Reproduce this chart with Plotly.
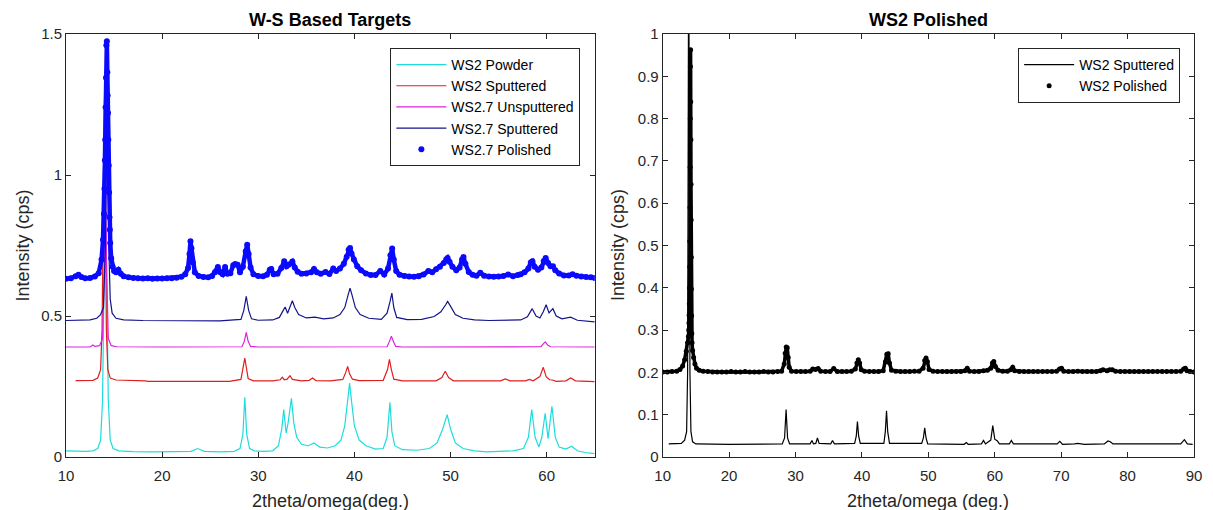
import plotly.graph_objects as go

# ---------------- Left panel: W-S Based Targets ----------------
powder_x = [10.0, 11.0, 12.0, 12.8, 13.3, 13.6, 13.8, 13.95, 14.1, 14.25, 14.4, 14.6, 14.9, 15.5, 17.0, 19.0,
            21.0, 23.0, 23.7, 24.4, 26.0, 27.5, 28.1, 28.4, 28.6, 28.8, 29.1, 29.6, 30.5, 31.5, 32.1, 32.45,
            32.65, 32.9, 33.1, 33.45, 33.7, 34.0, 34.5, 35.2, 35.8, 36.4, 37.2, 38.0, 38.6, 39.0, 39.3, 39.5,
            39.7, 40.0, 40.5, 41.2, 42.2, 43.0, 43.4, 43.7, 43.9, 44.2, 45.0, 46.5, 47.8, 48.6, 49.2, 49.65,
            50.0, 50.5, 51.3, 52.5, 53.8, 55.0, 56.5, 57.6, 58.1, 58.45, 58.8, 59.2, 59.5, 59.85, 60.15,
            60.55, 60.9, 61.3, 62.0, 62.6, 63.2, 64.0, 65.0]
powder_y = [0.022, 0.021, 0.020, 0.022, 0.030, 0.060, 0.200, 0.600, 1.000, 0.600, 0.200, 0.060, 0.030, 0.022,
            0.019, 0.018, 0.018, 0.020, 0.030, 0.020, 0.018, 0.020, 0.030, 0.080, 0.212, 0.080, 0.030, 0.022,
            0.020, 0.022, 0.040, 0.100, 0.168, 0.085, 0.120, 0.208, 0.120, 0.070, 0.045, 0.040, 0.050, 0.035,
            0.032, 0.040, 0.060, 0.110, 0.200, 0.262, 0.200, 0.110, 0.060, 0.040, 0.028, 0.030, 0.070, 0.194,
            0.090, 0.040, 0.026, 0.024, 0.030, 0.050, 0.100, 0.150, 0.100, 0.050, 0.030, 0.022, 0.018, 0.020,
            0.022, 0.030, 0.070, 0.168, 0.070, 0.035, 0.070, 0.155, 0.065, 0.180, 0.070, 0.035, 0.028, 0.038,
            0.022, 0.016, 0.012]

ws2_sput_x = [11.0, 12.0, 12.8, 13.3, 13.6, 13.75, 13.9, 14.0, 14.1, 14.2, 14.35, 14.6, 15.2, 17.0, 18.3, 18.5,
              21.0, 24.0, 27.0, 28.2, 28.45, 28.6, 28.75, 28.95, 29.5, 31.5, 32.3, 32.5, 32.7, 33.0, 33.3, 33.55,
              34.5, 35.3, 35.65, 36.0, 37.5, 38.8, 39.1, 39.3, 39.5, 39.8, 40.5, 43.0, 43.45, 43.65, 43.85, 44.1,
              45.0, 48.5, 49.1, 49.45, 49.8, 50.3, 55.2, 55.7, 56.2, 57.8, 58.2, 58.6, 59.3, 59.65, 59.95, 60.3,
              60.6, 61.0, 62.0, 62.5, 63.0, 65.0]
ws2_sput_y = [0.271, 0.271, 0.272, 0.280, 0.310, 0.450, 0.900, 1.267, 0.900, 0.450, 0.310, 0.280, 0.273, 0.272,
              0.270, 0.268, 0.268, 0.268, 0.268, 0.275, 0.320, 0.351, 0.320, 0.278, 0.270, 0.270, 0.274, 0.283,
              0.274, 0.276, 0.288, 0.275, 0.270, 0.272, 0.280, 0.271, 0.270, 0.275, 0.300, 0.321, 0.295, 0.276,
              0.271, 0.272, 0.310, 0.346, 0.310, 0.276, 0.270, 0.270, 0.282, 0.304, 0.282, 0.270, 0.270, 0.277,
              0.270, 0.270, 0.275, 0.270, 0.285, 0.318, 0.285, 0.274, 0.273, 0.268, 0.270, 0.280, 0.270, 0.267]

ws27_unsput_x = [10.0, 12.5, 12.8, 13.0, 13.5, 13.8, 14.0, 14.1, 14.2, 14.4, 14.7, 15.3, 20.0, 28.3, 28.55, 28.75,
                 28.95, 29.2, 30.0, 43.4, 43.65, 43.85, 44.05, 44.3, 45.0, 59.4, 59.7, 59.87, 60.1, 60.4, 65.0]
ws27_unsput_y = [0.390, 0.390, 0.397, 0.392, 0.395, 0.420, 0.700, 1.150, 0.700, 0.420, 0.395, 0.391, 0.390, 0.391,
                 0.410, 0.442, 0.410, 0.392, 0.390, 0.391, 0.410, 0.428, 0.410, 0.392, 0.390, 0.391, 0.403, 0.408,
                 0.397, 0.391, 0.390]

ws27_sput_x = [10.0, 11.5, 12.5, 13.2, 13.6, 13.9, 14.1, 14.3, 14.45, 14.6, 14.8, 15.2, 16.0, 18.0, 22.0, 26.0,
               28.2, 28.5, 28.75, 29.0, 29.3, 30.0, 31.5, 32.2, 32.6, 32.8, 33.05, 33.3, 33.55, 33.8, 34.2, 35.0,
               35.9, 36.8, 37.8, 38.5, 39.0, 39.35, 39.55, 39.75, 40.1, 40.6, 41.5, 42.8, 43.4, 43.7, 43.9, 44.1,
               44.4, 45.5, 47.0, 48.3, 49.0, 49.5, 49.7, 50.0, 50.5, 51.3, 52.5, 54.0, 55.8, 57.3, 58.0, 58.5,
               58.9, 59.3, 59.65, 59.95, 60.25, 60.65, 61.0, 61.6, 62.5, 63.2, 65.0]
ws27_sput_y = [0.484, 0.484, 0.486, 0.492, 0.505, 0.530, 0.750, 1.450, 0.750, 0.560, 0.510, 0.492, 0.486, 0.484,
               0.483, 0.483, 0.488, 0.520, 0.570, 0.520, 0.490, 0.485, 0.486, 0.495, 0.520, 0.532, 0.510, 0.530,
               0.554, 0.530, 0.505, 0.493, 0.496, 0.490, 0.493, 0.505, 0.530, 0.575, 0.599, 0.575, 0.530, 0.505,
               0.492, 0.488, 0.510, 0.550, 0.581, 0.530, 0.495, 0.487, 0.488, 0.498, 0.515, 0.540, 0.552, 0.535,
               0.505, 0.492, 0.486, 0.484, 0.486, 0.486, 0.497, 0.526, 0.500, 0.493, 0.515, 0.540, 0.511, 0.526,
               0.500, 0.490, 0.496, 0.485, 0.479]

ws27_pol_x = [10.0, 10.5, 11.0, 11.3, 11.6, 12.0, 12.5, 13.0, 13.4, 13.7, 13.85, 13.95, 14.0, 14.05, 14.08, 14.12,
              14.16, 14.2, 14.25, 14.3, 14.33, 14.37, 14.4, 14.44, 14.48, 14.52, 14.56, 14.6, 14.7, 14.85, 15.0,
              15.2, 15.45, 15.7, 16.0, 16.5, 17.0, 17.5, 18.0, 18.5, 19.0, 19.5, 20.0, 20.5, 21.0, 21.5, 22.0,
              22.4, 22.7, 22.85, 22.95, 23.05, 23.2, 23.4, 23.8, 24.3, 24.8, 25.2, 25.5, 25.8, 26.05, 26.3, 26.55,
              26.8, 27.1, 27.4, 27.6, 27.85, 28.1, 28.4, 28.7, 28.85, 29.0, 29.2, 29.5, 30.0, 30.5, 30.9, 31.2,
              31.35, 31.6, 32.0, 32.4, 32.7, 32.95, 33.2, 33.55, 33.8, 34.1, 34.5, 35.0, 35.5, 35.8, 36.1, 36.5,
              37.0, 37.4, 37.8, 38.1, 38.5, 38.9, 39.2, 39.4, 39.55, 39.7, 39.95, 40.3, 40.7, 41.2, 41.7, 42.2,
              42.7, 43.1, 43.5, 43.75, 43.93, 44.1, 44.35, 44.7, 45.2, 45.7, 46.2, 46.7, 47.2, 47.7, 48.1, 48.5,
              48.9, 49.3, 49.55, 49.7, 49.9, 50.2, 50.6, 50.95, 51.2, 51.35, 51.55, 51.9, 52.3, 52.7, 53.1, 53.5,
              54.0, 54.5, 55.0, 55.5, 56.0, 56.5, 57.0, 57.3, 57.7, 58.1, 58.35, 58.52, 58.75, 59.1, 59.45, 59.7,
              59.9, 60.15, 60.4, 60.66, 60.9, 61.3, 61.8, 62.3, 62.7, 63.1, 63.6, 64.1, 64.6, 65.0]
ws27_pol_y = [0.632, 0.634, 0.641, 0.646, 0.638, 0.634, 0.635, 0.640, 0.652, 0.700, 0.770, 0.862, 0.951, 1.052,
              1.125, 1.240, 1.345, 1.460, 1.474, 1.364, 1.282, 1.220, 1.125, 1.034, 0.938, 0.850, 0.806, 0.759,
              0.705, 0.675, 0.660, 0.655, 0.664, 0.650, 0.641, 0.637, 0.635, 0.634, 0.633, 0.634, 0.632, 0.633,
              0.633, 0.634, 0.634, 0.636, 0.639, 0.648, 0.670, 0.720, 0.765, 0.740, 0.690, 0.655, 0.642, 0.638,
              0.637, 0.642, 0.655, 0.674, 0.655, 0.648, 0.674, 0.650, 0.652, 0.680, 0.684, 0.682, 0.655, 0.675,
              0.730, 0.753, 0.720, 0.672, 0.648, 0.642, 0.641, 0.646, 0.664, 0.667, 0.648, 0.650, 0.670, 0.694,
              0.676, 0.683, 0.693, 0.672, 0.657, 0.650, 0.651, 0.655, 0.667, 0.655, 0.650, 0.656, 0.649, 0.668,
              0.660, 0.668, 0.685, 0.710, 0.735, 0.741, 0.722, 0.700, 0.676, 0.662, 0.651, 0.645, 0.645, 0.660,
              0.647, 0.668, 0.715, 0.739, 0.700, 0.660, 0.646, 0.642, 0.640, 0.639, 0.641, 0.647, 0.660, 0.655,
              0.666, 0.675, 0.688, 0.700, 0.706, 0.692, 0.675, 0.662, 0.672, 0.700, 0.709, 0.685, 0.656, 0.646,
              0.643, 0.653, 0.643, 0.640, 0.639, 0.640, 0.642, 0.647, 0.641, 0.645, 0.648, 0.655, 0.668, 0.690,
              0.694, 0.675, 0.664, 0.672, 0.695, 0.706, 0.688, 0.676, 0.676, 0.662, 0.651, 0.644, 0.644, 0.648,
              0.643, 0.640, 0.638, 0.637, 0.635]

left_xticks = [10, 20, 30, 40, 50, 60]
left_yticks = [0, 0.5, 1, 1.5]
left_yticklabels = ["0", "0.5", "1", "1.5"]

# ---------------- Right panel: WS2 Polished ----------------
ws2_line_x = [10.9, 12.0, 12.8, 13.3, 13.6, 13.75, 13.85, 13.92, 14.0, 14.1, 14.25, 14.5, 15.0, 20.0, 28.0, 28.35,
              28.58, 28.8, 29.1, 32.2, 32.47, 32.7, 33.05, 33.3, 33.55, 35.3, 35.57, 35.85, 38.9, 39.15, 39.32,
              39.5, 39.75, 43.3, 43.52, 43.7, 43.88, 44.15, 49.0, 49.25, 49.45, 49.65, 49.9, 55.4, 55.7, 56.0,
              58.0, 58.3, 58.6, 59.4, 59.7, 60.0, 60.4, 60.7, 62.2, 62.5, 62.8, 69.4, 69.8, 70.2, 72.0, 72.5,
              73.5, 76.5, 77.05, 77.4, 77.8, 80.0, 80.5, 88.0, 88.55, 89.0, 89.8]
ws2_line_y = [0.031, 0.031, 0.032, 0.040, 0.060, 0.200, 0.700, 1.300, 0.700, 0.200, 0.060, 0.036, 0.031, 0.030,
              0.031, 0.045, 0.112, 0.045, 0.031, 0.031, 0.039, 0.031, 0.032, 0.045, 0.032, 0.031, 0.039, 0.031,
              0.032, 0.050, 0.084, 0.050, 0.032, 0.032, 0.060, 0.109, 0.060, 0.032, 0.032, 0.045, 0.069, 0.045,
              0.031, 0.030, 0.034, 0.030, 0.031, 0.039, 0.031, 0.040, 0.074, 0.042, 0.038, 0.031, 0.031, 0.039,
              0.031, 0.031, 0.037, 0.030, 0.031, 0.032, 0.030, 0.031, 0.038, 0.036, 0.031, 0.032, 0.031, 0.031,
              0.041, 0.031, 0.030]

ws2_pol_x = [10.0, 10.7, 11.4, 12.1, 12.6, 13.0, 13.3, 13.55, 13.75, 13.87, 13.92, 13.95, 13.98, 14.01, 14.04,
             14.07, 14.09, 14.11, 14.13, 14.15, 14.17, 14.2, 14.22, 14.24, 14.26, 14.28, 14.3, 14.32, 14.35,
             14.38, 14.42, 14.5, 14.65, 14.85, 15.1, 15.5, 16.1, 16.8, 17.5, 18.2, 18.9, 19.6, 20.3, 21.0, 21.7,
             22.4, 23.1, 23.8, 24.5, 25.2, 25.9, 26.6, 27.3, 27.9, 28.3, 28.45, 28.6, 28.75, 28.9, 29.05, 29.4,
             30.1, 30.8, 31.5, 32.2, 32.6, 33.0, 33.4, 33.8, 34.5, 35.2, 35.75, 36.3, 37.0, 37.7, 38.4, 39.0,
             39.25, 39.45, 39.65, 39.9, 40.4, 41.1, 41.8, 42.5, 43.2, 43.55, 43.75, 43.95, 44.15, 44.45, 45.1,
             45.8, 46.5, 47.2, 47.9, 48.6, 49.2, 49.45, 49.65, 49.85, 50.1, 50.7, 51.4, 52.1, 52.8, 53.5, 54.2,
             54.9, 55.5, 55.85, 56.2, 56.9, 57.6, 58.3, 58.9, 59.4, 59.65, 59.85, 60.1, 60.5, 61.2, 61.9, 62.4,
             62.7, 63.0, 63.7, 64.4, 65.1, 65.8, 66.5, 67.2, 67.9, 68.6, 69.3, 69.75, 70.05, 70.4, 71.1, 71.8,
             72.5, 73.2, 73.9, 74.6, 75.3, 75.9, 76.3, 76.9, 77.3, 77.7, 78.2, 78.9, 79.6, 80.3, 81.0, 81.7,
             82.4, 83.1, 83.8, 84.5, 85.2, 85.9, 86.6, 87.3, 88.0, 88.45, 88.7, 88.95, 89.4, 90.0]
ws2_pol_y = [0.201, 0.201, 0.202, 0.203, 0.207, 0.215, 0.230, 0.250, 0.270, 0.285, 0.300, 0.317, 0.335, 0.362,
             0.400, 0.450, 0.510, 0.590, 0.685, 0.800, 0.923, 0.963, 0.840, 0.750, 0.645, 0.560, 0.472, 0.397,
             0.334, 0.292, 0.270, 0.252, 0.235, 0.220, 0.210, 0.205, 0.203, 0.202, 0.201, 0.201, 0.201, 0.201,
             0.202, 0.201, 0.201, 0.202, 0.201, 0.201, 0.201, 0.202, 0.201, 0.201, 0.202, 0.203, 0.220, 0.245,
             0.260, 0.258, 0.235, 0.212, 0.203, 0.202, 0.202, 0.202, 0.203, 0.208, 0.207, 0.209, 0.203, 0.202,
             0.202, 0.209, 0.202, 0.202, 0.202, 0.203, 0.208, 0.222, 0.230, 0.222, 0.206, 0.203, 0.202, 0.202,
             0.202, 0.204, 0.225, 0.243, 0.244, 0.222, 0.205, 0.203, 0.202, 0.202, 0.202, 0.203, 0.203, 0.210,
             0.228, 0.234, 0.226, 0.207, 0.203, 0.202, 0.202, 0.202, 0.202, 0.202, 0.202, 0.204, 0.210, 0.203,
             0.202, 0.202, 0.204, 0.205, 0.210, 0.222, 0.226, 0.214, 0.205, 0.203, 0.203, 0.206, 0.212, 0.204,
             0.202, 0.202, 0.202, 0.202, 0.202, 0.202, 0.202, 0.202, 0.203, 0.208, 0.210, 0.203, 0.202, 0.202,
             0.203, 0.202, 0.202, 0.202, 0.202, 0.204, 0.206, 0.204, 0.206, 0.206, 0.203, 0.202, 0.202, 0.202,
             0.202, 0.202, 0.202, 0.202, 0.202, 0.202, 0.202, 0.202, 0.202, 0.202, 0.203, 0.208, 0.210, 0.204,
             0.202, 0.201]

right_xticks = [10, 20, 30, 40, 50, 60, 70, 80, 90]
right_yticks = [0, 0.1, 0.2, 0.3, 0.4, 0.5, 0.6, 0.7, 0.8, 0.9, 1]
right_yticklabels = ["0", "0.1", "0.2", "0.3", "0.4", "0.5", "0.6", "0.7", "0.8", "0.9", "1"]

# ---------------- Styling ----------------
FONT = "Liberation Sans, Arial, Helvetica, sans-serif"
AX = "#262626"
CYAN = "#1fdcdc"
RED = "#e01e1e"
MAGENTA = "#e020e0"
NAVY = "#14148c"
BLUE = "#0a0aff"

fig = go.Figure()

fig.add_trace(go.Scatter(x=powder_x, y=powder_y, mode="lines", name="WS2 Powder",
                         line=dict(color=CYAN, width=1.2), xaxis="x", yaxis="y", legend="legend"))
fig.add_trace(go.Scatter(x=ws2_sput_x, y=ws2_sput_y, mode="lines", name="WS2 Sputtered",
                         line=dict(color=RED, width=1.2), xaxis="x", yaxis="y", legend="legend"))
fig.add_trace(go.Scatter(x=ws27_unsput_x, y=ws27_unsput_y, mode="lines", name="WS2.7 Unsputtered",
                         line=dict(color=MAGENTA, width=1.2), xaxis="x", yaxis="y", legend="legend"))
fig.add_trace(go.Scatter(x=ws27_sput_x, y=ws27_sput_y, mode="lines", name="WS2.7 Sputtered",
                         line=dict(color=NAVY, width=1.2), xaxis="x", yaxis="y", legend="legend"))
fig.add_trace(go.Scatter(x=ws27_pol_x, y=ws27_pol_y, mode="lines", showlegend=False, hoverinfo="skip",
                         line=dict(color=BLUE, width=4.5), xaxis="x", yaxis="y"))
fig.add_trace(go.Scatter(x=ws27_pol_x, y=ws27_pol_y, mode="markers", name="WS2.7 Polished",
                         marker=dict(color=BLUE, size=6), xaxis="x", yaxis="y", legend="legend"))

fig.add_trace(go.Scatter(x=ws2_line_x, y=ws2_line_y, mode="lines", name="WS2 Sputtered",
                         line=dict(color="black", width=1.2), xaxis="x2", yaxis="y2", legend="legend2"))
fig.add_trace(go.Scatter(x=ws2_pol_x, y=ws2_pol_y, mode="lines", showlegend=False, hoverinfo="skip",
                         line=dict(color="black", width=3.5), xaxis="x2", yaxis="y2"))
fig.add_trace(go.Scatter(x=ws2_pol_x, y=ws2_pol_y, mode="markers", name="WS2 Polished",
                         marker=dict(color="black", size=5), xaxis="x2", yaxis="y2", legend="legend2"))

axis_common = dict(showline=True, linecolor=AX, linewidth=1, mirror="allticks", ticks="inside",
                   ticklen=5, tickcolor=AX, tickwidth=1, showgrid=False, zeroline=False,
                   tickfont=dict(family=FONT, size=15, color=AX))

L0, L1 = 0.0, 0.4687
R0, R1 = 0.529, 1.0

# The page body has an 8 px default margin, so the figure is 8 px smaller than the window.
fig.update_layout(
    width=1205, height=502,
    margin=dict(l=58, r=11, t=26, b=53),
    paper_bgcolor="white", plot_bgcolor="white",
    xaxis=dict(domain=[L0, L1], range=[10, 65], tickvals=left_xticks, anchor="y",
               ticklabelstandoff=5, **axis_common),
    yaxis=dict(domain=[0, 1], range=[0, 1.5], tickvals=left_yticks, ticktext=left_yticklabels,
               anchor="x", **axis_common),
    xaxis2=dict(domain=[R0, R1], range=[10, 90], tickvals=right_xticks, anchor="y2",
                ticklabelstandoff=5, **axis_common),
    yaxis2=dict(domain=[0, 1], range=[0, 1], tickvals=right_yticks, ticktext=right_yticklabels,
                anchor="x2", **axis_common),
    legend=dict(x=0.456, y=0.967, xanchor="right", yanchor="top", bgcolor="white",
                bordercolor=AX, borderwidth=1, font=dict(family=FONT, size=14, color="black"),
                itemwidth=50, tracegroupgap=0),
    legend2=dict(x=0.9877, y=0.967, xanchor="right", yanchor="top", bgcolor="white",
                 bordercolor=AX, borderwidth=1, font=dict(family=FONT, size=14, color="black"),
                 itemwidth=50, tracegroupgap=0),
    showlegend=True,
)

ann_font = dict(family=FONT, size=18, color=AX)
title_font = dict(family=FONT, size=18, color="black")
fig.add_annotation(text="<b>W-S Based Targets</b>", x=(L0 + L1) / 2, y=1.033, xref="paper", yref="paper",
                   xanchor="center", yanchor="middle", showarrow=False, font=title_font)
fig.add_annotation(text="<b>WS2 Polished</b>", x=(R0 + R1) / 2, y=1.033, xref="paper", yref="paper",
                   xanchor="center", yanchor="middle", showarrow=False, font=title_font)
fig.add_annotation(text="2theta/omega(deg.)", x=(L0 + L1) / 2, y=-0.104, xref="paper", yref="paper",
                   xanchor="center", yanchor="middle", showarrow=False, font=ann_font)
fig.add_annotation(text="2theta/omega (deg.)", x=(R0 + R1) / 2, y=-0.104, xref="paper", yref="paper",
                   xanchor="center", yanchor="middle", showarrow=False, font=ann_font)
fig.add_annotation(text="Intensity (cps)", x=-0.039, y=0.5, xref="paper", yref="paper", textangle=-90,
                   xanchor="center", yanchor="middle", showarrow=False, font=ann_font)
fig.add_annotation(text="Intensity (cps)", x=0.489, y=0.5, xref="paper", yref="paper", textangle=-90,
                   xanchor="center", yanchor="middle", showarrow=False, font=ann_font)

fig.write_html("out.html")
